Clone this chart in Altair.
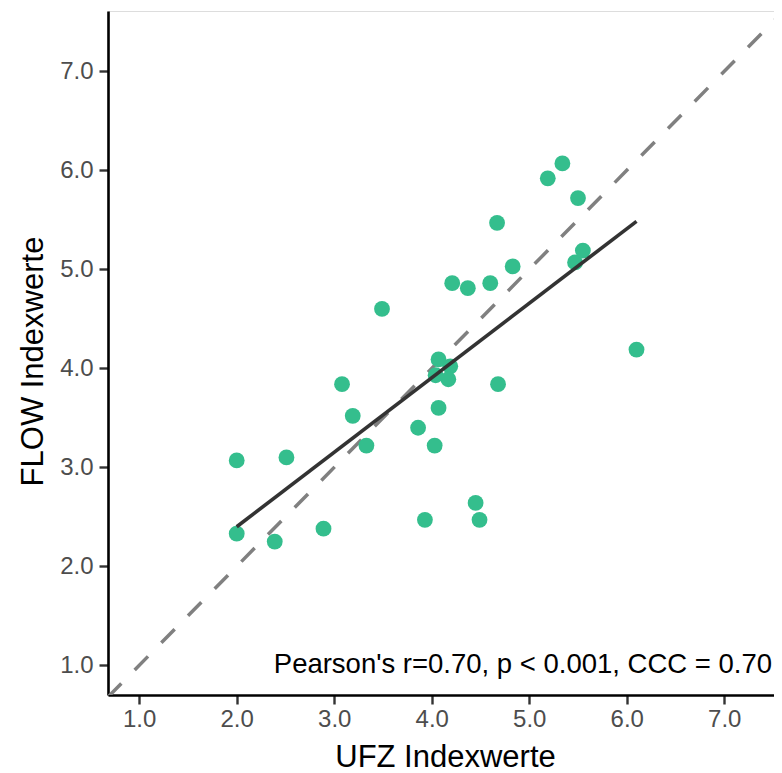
import altair as alt
import pandas as pd

# Data
ufz = [2.00, 2.00, 2.51, 2.39, 2.89, 3.08, 3.19, 3.33, 3.49, 3.86, 3.93, 4.03,
       4.07, 4.07, 4.19, 4.17, 4.04, 4.21, 4.37, 4.45, 4.49, 4.60, 4.67, 4.68,
       4.83, 5.19, 5.34, 5.47, 5.50, 5.55, 6.10]
flow = [3.07, 2.33, 3.10, 2.25, 2.38, 3.84, 3.52, 3.22, 4.60, 3.40, 2.47, 3.22,
        3.60, 4.09, 4.02, 3.89, 3.93, 4.86, 4.81, 2.64, 2.47, 4.86, 5.47, 3.84,
        5.03, 5.92, 6.07, 5.07, 5.72, 5.19, 4.19]
identity = [0.68, 7.62]
tick_values = [1, 2, 3, 4, 5, 6, 7]
annotation = ["Pearson's r=0.70, p < 0.001, CCC = 0.70"]
ann_x = [7.49]
ann_y = [0.92]

x_domain = [0.68, 7.51]
y_domain = [0.70, 7.61]

pts = pd.DataFrame({"ufz": ufz, "flow": flow})
idl = pd.DataFrame({"ufz": identity, "flow": identity})
ann = pd.DataFrame({"ufz": ann_x, "flow": ann_y, "label": annotation})

FONT = "Liberation Sans"

xscale = alt.Scale(domain=x_domain, nice=False, zero=False)
yscale = alt.Scale(domain=y_domain, nice=False, zero=False)

xaxis = alt.Axis(
    title="UFZ Indexwerte", values=tick_values, format=".1f", grid=False,
    domainColor="black", domainWidth=2.6, tickColor="#333333", tickWidth=2.4,
    tickSize=9, labelFontSize=24, labelColor="#4D4D4D", labelFont=FONT,
    labelPadding=3, titleFontSize=31, titleFont=FONT, titleFontWeight="normal",
    titleColor="black", titleX=337, titleY=71, titleBaseline="alphabetic",
    labelFlush=False,
)
yaxis = alt.Axis(
    title="FLOW Indexwerte", values=tick_values, format=".1f", grid=False,
    domainColor="black", domainWidth=2.6, tickColor="#333333", tickWidth=2.4,
    tickSize=9, labelFontSize=24, labelColor="#4D4D4D", labelFont=FONT,
    labelPadding=6, titleFontSize=31, titleFont=FONT, titleFontWeight="normal",
    titleColor="black", titleX=-66, titleY=350, titleBaseline="alphabetic",
    titleAngle=-90, labelFlush=False,
)

base_x = alt.X("ufz:Q", scale=xscale, axis=xaxis)
base_y = alt.Y("flow:Q", scale=yscale, axis=yaxis)

identity_line = alt.Chart(idl).mark_line(
    color="#808080", strokeWidth=3.5, strokeDash=[19, 19], clip=True
).encode(x=base_x, y=base_y)

points = alt.Chart(pts).mark_circle(
    size=250, color="#34BE8D", opacity=1
).encode(x=base_x, y=base_y)

reg = alt.Chart(pts).transform_regression(
    "ufz", "flow"
).mark_line(color="#333333", strokeWidth=3.6).encode(x=base_x, y=base_y)

text = alt.Chart(ann).mark_text(
    align="right", baseline="alphabetic", fontSize=27.5, font=FONT, color="black"
).encode(x=base_x, y=base_y, text="label:N")

chart = alt.layer(identity_line, points, reg, text).properties(
    width=666, height=684,
    autosize=alt.AutoSizeParams(type="none"),
    padding={"left": 100, "top": 3, "right": 0, "bottom": 78},
).configure_view(stroke=None).configure(background="white")

chart.save("out.html", embed_options={"renderer": "svg", "actions": False})
